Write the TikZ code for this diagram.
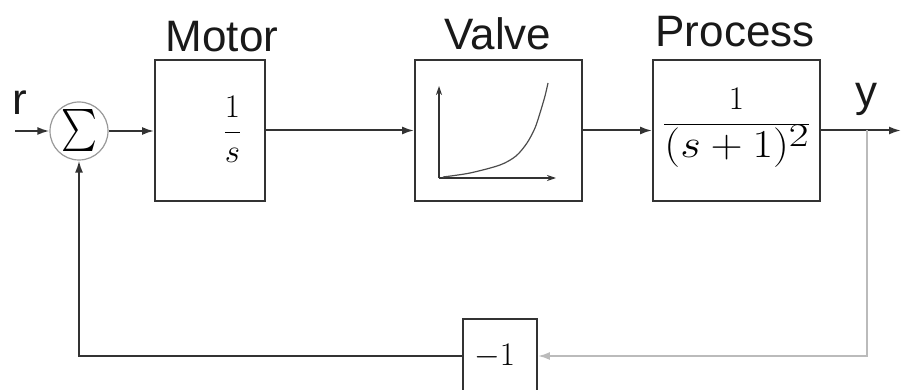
\RequirePackage{fix-cm}
\documentclass[tikz,border=0pt]{standalone}
\usepackage{fontspec}
\usepackage{graphicx}
\usetikzlibrary{arrows.meta}
\newfontfamily\lblfont{Liberation Sans}
\definecolor{ln}{HTML}{333333}
\definecolor{fbgray}{HTML}{BBBBBB}
\begin{document}
\begin{tikzpicture}[x=1pt,y=-1pt,
  blk/.style={draw=ln, line width=1.8pt, rectangle, inner sep=0pt},
  lbl/.style={font=\lblfont\fontsize{44}{44}\selectfont, text=black!90, anchor=base, inner sep=0pt},
  mth/.style={font=\fontsize{33}{33}\selectfont, anchor=base, inner sep=0pt},
  sig/.style={line width=2pt, draw=ln, -{Latex[length=12pt,width=8pt]}},
  fbsig/.style={line width=2pt, draw=fbgray, -{Latex[length=12pt,width=8pt]}}]
\useasboundingbox (0,0) rectangle (901,390);
% blocks
\node[circle, draw=gray!80, line width=1.2pt, minimum size=58pt, inner sep=0pt] (sum) at (79,131) {};
\node[inner sep=0pt] (sumsym) at (79,131) {\scalebox{3.4}[4.2]{$\sum$}};
\node[blk, minimum width=110pt, minimum height=141pt] (motor) at (210,130.5) {};
\node[blk, minimum width=167pt, minimum height=141pt] (valve) at (498.5,130.5) {};
\node[blk, minimum width=167pt, minimum height=141pt] (proc) at (736.5,130.5) {};
\node[blk, minimum width=74pt, minimum height=74pt] (fb) at (500,356) {};
% block contents
\node[mth] (motortf) at (232.5,140) {$\displaystyle\frac{1}{s}$};
\node[mth] (proctf) at (736.5,132) {$\displaystyle\frac{1}{\scalebox{1.35}[1.2]{$(s+1)$}\raisebox{11pt}{\scalebox{1.3}[1]{$2$}}}$};
\node[mth] (fbtf) at (494.5,365) {$-1$};
% valve characteristic
\coordinate (vo) at (439,178);
\coordinate (vy) at (439,86);
\coordinate (vx) at (556,178);
\draw[line width=1.3pt, draw=ln, -{Stealth[length=9pt,width=6pt]}] (vo) -- (vy);
\draw[line width=1.3pt, draw=ln, -{Stealth[length=9pt,width=6pt]}] (vo) -- (vx);
\draw[line width=1.2pt, draw=black!70] plot[smooth] coordinates {(443,177) (470,173) (500,165) (516,156) (527,143) (535,128) (540,113) (545,96) (548,83)};
% labels
\node[lbl] (motorlbl) at (222,52) {Motor};
\node[lbl] (valvelbl) at (498,50) {Valve};
\node[lbl] (proclbl) at (735,47) {Process};
\node[lbl] (ylbl) at (866,107) {y};
\node[lbl] (rlbl) at (20,115) {r};
% signals
\coordinate (rin) at (15,131);
\coordinate (yout) at (901,130.5);
\coordinate (br) at (867,130.5);
\draw[sig] (rin) -- (sum.west);
\draw[sig] (sum.east) -- (sum.east -| motor.west);
\draw[sig] (motor.east) -- (valve.west);
\draw[sig] (valve.east) -- (proc.west);
\draw[sig] (proc.east) -- (yout);
\draw[fbsig] (br) |- (fb.east);
\draw[sig] (fb.west) -| (sum.south);
\end{tikzpicture}
\end{document}
